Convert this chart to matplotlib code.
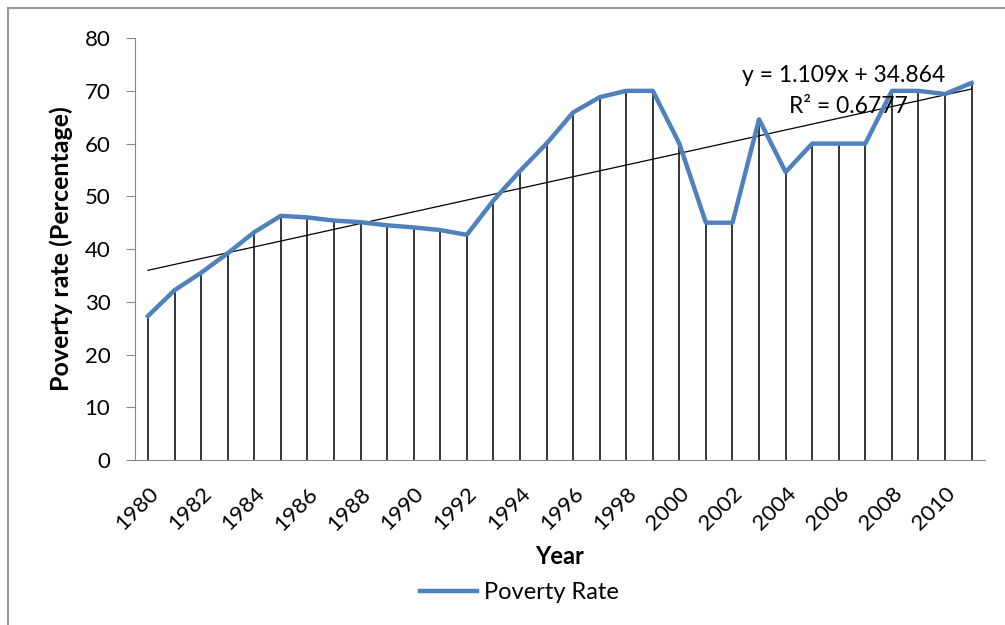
import matplotlib.pyplot as plt
from matplotlib.patches import Rectangle

years = list(range(1980, 2012))
poverty_rate = [27.3, 32.2, 35.5, 39.2, 43.2, 46.3, 46.0, 45.4, 45.1, 44.5,
                44.1, 43.6, 42.7, 49.2, 54.8, 60.0, 65.9, 68.8, 70.0, 70.0,
                60.0, 45.0, 45.0, 64.6, 54.6, 60.0, 60.0, 60.0, 70.0, 70.0,
                69.4, 71.5]
trend_slope = 1.109
trend_intercept = 34.864
r_squared = 0.6777
tick_years = list(range(1980, 2011, 2))

plt.rcParams['font.family'] = ['Lato', 'DejaVu Sans']

fig = plt.figure(figsize=(10.05, 6.25), dpi=100)
ax = fig.add_axes([0.134, 0.264, 0.846, 0.675])

# outer frame like the spreadsheet chart area
fig.patches.append(Rectangle((0.008, -0.02), 1.05, 1.007, transform=fig.transFigure,
                             fill=False, edgecolor='#999999', linewidth=1.5))

ax.vlines(years, 0, poverty_rate, colors='black', linewidth=1.1)
trend = [trend_slope * (i + 1) + trend_intercept for i in range(len(years))]
ax.plot(years, trend, color='black', linewidth=0.9)
ax.plot(years, poverty_rate, color='#4F81BD', linewidth=3.2, label='Poverty Rate')

ax.text(2010.0, 73.0, f'y = {trend_slope}x + {trend_intercept}', ha='right', va='center', fontsize=16.5)
ax.text(2008.6, 67.0, f'R² = {r_squared}', ha='right', va='center', fontsize=16.5)

ax.set_xlim(1979.5, 2011.5)
ax.set_ylim(0, 80)
ax.set_yticks(range(0, 81, 10))
ax.set_xticks(tick_years)
ax.set_xticklabels([str(y) for y in tick_years], rotation=45, ha='right',
                   rotation_mode='anchor', fontsize=16)
ax.tick_params(axis='y', labelsize=16, length=6.5, color='#888888', pad=11)
ax.tick_params(axis='x', length=0, pad=17)

for side in ['top', 'right']:
    ax.spines[side].set_visible(False)
for side in ['left', 'bottom']:
    ax.spines[side].set_color('#888888')

ax.set_xlabel('Year', fontsize=17, fontweight='bold', labelpad=8)
ax.set_ylabel('Poverty rate (Percentage)', fontsize=18, fontweight='bold', labelpad=8)

fig.legend(loc='center', bbox_to_anchor=(0.517, 0.052), frameon=False, fontsize=17,
           handlelength=2.4, handletextpad=0.3)

fig.savefig('out.png', dpi=100)
